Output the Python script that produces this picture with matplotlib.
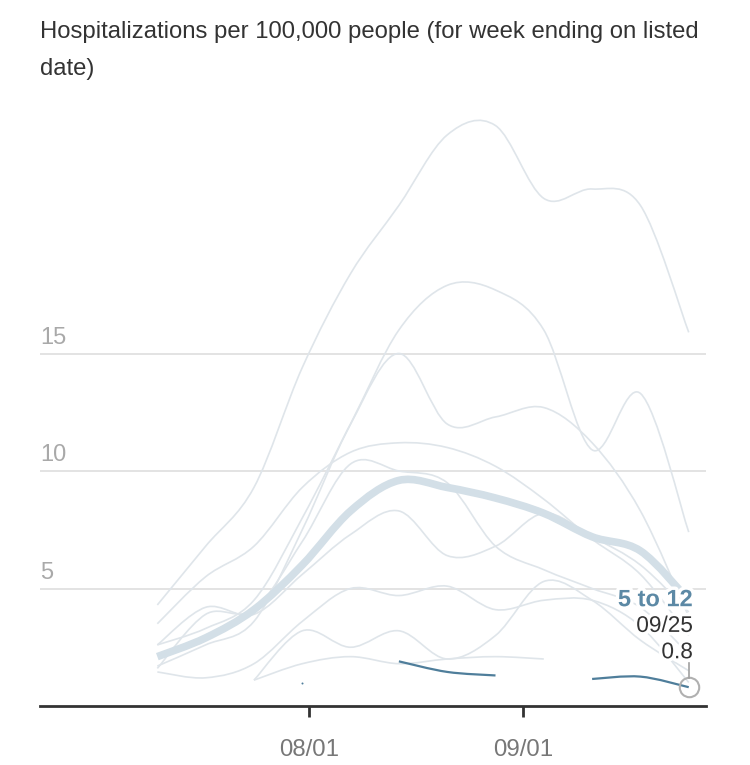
import numpy as np
import matplotlib
matplotlib.use("Agg")
import matplotlib.pyplot as plt
import matplotlib.dates as mdates
from matplotlib.path import Path
from matplotlib.patches import PathPatch
import matplotlib.patheffects as pe

plt.rcParams['font.family'] = ['Liberation Sans', 'DejaVu Sans']

nan = np.nan

# ---- data ----
week_ending = ["2021-07-10", "2021-07-17", "2021-07-24", "2021-07-31",
               "2021-08-07", "2021-08-14", "2021-08-21", "2021-08-28",
               "2021-09-04", "2021-09-11", "2021-09-18", "2021-09-25"]

group_a = [4.3, 6.8, 9.3, 14.4, 18.4, 21.3, 24.3, 24.7, 21.6, 22.0, 21.3, 15.9]
group_b = [2.6, 3.3, 4.5, 8.0, 12.0, 16.0, 17.9, 17.7, 16.0, 10.9, 13.3, 7.4]
group_c = [1.7, 2.6, 3.6, 7.5, 12.0, 15.0, 12.0, 12.3, 12.7, 11.2, 8.3, 3.8]
group_d = [3.5, 5.5, 6.8, 9.3, 10.8, 11.2, 11.0, 10.2, 8.8, 7.1, 5.6, 3.0]
group_e = [2.6, 4.2, 3.9, 5.6, 7.3, 8.3, 6.4, 6.8, 8.2, 7.2, 6.0, 4.0]
group_f = [1.6, 3.9, 4.1, 7.0, 10.3, 10.0, 9.5, 6.8, 5.8, 5.0, 4.2, 2.2]
group_g = [1.45, 1.2, 1.8, 3.6, 5.0, 4.7, 5.1, 4.1, 4.5, 4.5, 3.4, 1.0]
group_h = [nan, nan, 1.1, 3.2, 2.5, 3.2, 2.0, 3.0, 5.3, 4.5, 2.8, 1.5]
group_i = [nan, nan, 1.1, 1.8, 2.1, 1.8, 2.0, 2.1, 2.0, nan, nan, nan]
other_groups = [group_a, group_b, group_c, group_d, group_e,
                group_f, group_g, group_h, group_i]

all_ages = [2.1, 2.9, 4.1, 6.0, 8.3, 9.6, 9.3, 8.85, 8.2, 7.2, 6.6, 4.5]
age_5_to_12 = [nan, nan, nan, 1.0, nan, 1.9, 1.45, 1.3, nan, 1.15, 1.25, 0.8]

highlight_name = "5 to 12"
highlight_date = "09/25"
highlight_value = "0.8"

y_grid = [5, 10, 15]
x_tick_dates = ["2021-08-01", "2021-09-01"]
x_tick_labels = ["08/01", "09/01"]
title = "Hospitalizations per 100,000 people (for week ending on listed\ndate)"

# ---- helpers ----
def smooth_path(xs, ys):
    pts = np.column_stack([xs, ys])
    n = len(pts)
    verts = [pts[0]]
    codes = [Path.MOVETO]
    for i in range(n - 1):
        p0 = pts[i - 1] if i > 0 else pts[i]
        p1 = pts[i]
        p2 = pts[i + 1]
        p3 = pts[i + 2] if i + 2 < n else pts[i + 1]
        c1 = p1 + (p2 - p0) / 6.0
        c2 = p2 - (p3 - p1) / 6.0
        verts += [c1, c2, p2]
        codes += [Path.CURVE4] * 3
    return Path(np.array(verts), codes)


def draw_series(ax, xs, ys, color, lw, z):
    ys = np.asarray(ys, float)
    valid = ~np.isnan(ys)
    i = 0
    n = len(ys)
    while i < n:
        if not valid[i]:
            i += 1
            continue
        j = i
        while j < n and valid[j]:
            j += 1
        sx, sy = xs[i:j], ys[i:j]
        if len(sx) == 1:
            ax.plot(sx, sy, 'o', ms=lw * 0.9, color=color, mew=0, zorder=z)
        else:
            ax.add_patch(PathPatch(smooth_path(sx, sy), fill=False,
                                   edgecolor=color, lw=lw, zorder=z,
                                   capstyle='butt', joinstyle='round'))
        i = j


# ---- figure ----
fig = plt.figure(figsize=(7.5, 7.65), dpi=100)
W, H = 750, 765
ax_left, ax_right = 40, 706
ax_bottom_px, ax_top_px = 706, 95
ax = fig.add_axes([ax_left / W, 1 - ax_bottom_px / H,
                   (ax_right - ax_left) / W, (ax_bottom_px - ax_top_px) / H])

x = mdates.datestr2num(week_ending)
x0 = mdates.datestr2num("2021-06-23")
ax.set_xlim(x0, x0 + 96.5)
ax.set_ylim(0, (ax_bottom_px - ax_top_px) / 23.5)

for g in y_grid:
    ax.axhline(g, color='#e1e1e1', lw=1.3, zorder=1)
    ax.annotate(str(g), xy=(0, g), xycoords=('axes fraction', 'data'),
                xytext=(0, 3.5), textcoords='offset points',
                ha='left', va='bottom', fontsize=17, color='#a9a9a9')

for s in other_groups:
    draw_series(ax, x, s, '#dfe5ea', 1.2, 2)

draw_series(ax, x, all_ages, '#d3dfe7', 5.5, 3)
draw_series(ax, x, age_5_to_12, '#4f7e9b', 1.6, 4)

# end marker and labels
ax.plot([x[-1]], [age_5_to_12[-1]], 'o', ms=14, mfc='none', mec='#b0b0b0',
        mew=1.5, zorder=6, clip_on=False)
ax.plot([x[-1], x[-1]], [age_5_to_12[-1] + 9.5 / 23.5, age_5_to_12[-1] + 24 / 23.5],
        color='#a0a0a0', lw=1.2, zorder=6, clip_on=False)

halo = [pe.withStroke(linewidth=5, foreground='white')]
ax.annotate(highlight_value, xy=(x[-1], age_5_to_12[-1]), xytext=(3, 25.5),
            textcoords='offset points', ha='right', va='center',
            fontsize=16.3, color='#333333', zorder=7, path_effects=halo)
ax.annotate(highlight_date, xy=(x[-1], age_5_to_12[-1]), xytext=(3, 44.5),
            textcoords='offset points', ha='right', va='center',
            fontsize=16.3, color='#333333', zorder=7, path_effects=halo)
ax.annotate(highlight_name, xy=(x[-1], age_5_to_12[-1]), xytext=(3, 63),
            textcoords='offset points', ha='right', va='center',
            fontsize=17, fontweight='bold', color='#5c89a5', zorder=7,
            path_effects=halo)

# axes styling
for sp in ['left', 'right', 'top']:
    ax.spines[sp].set_visible(False)
ax.spines['bottom'].set_color('#333333')
ax.spines['bottom'].set_linewidth(2)
ax.set_yticks([])
ax.set_xticks(mdates.datestr2num(x_tick_dates))
ax.set_xticklabels(x_tick_labels)
ax.tick_params(axis='x', direction='out', length=8, width=2, color='#333333',
               labelcolor='#777777', labelsize=17.3, pad=16)
ax.set_facecolor('none')

fig.text(40 / W, 1 - 21 / H, title, ha='left', va='top', fontsize=17.2,
         color='#333333', linespacing=1.9)

fig.savefig("out.png", dpi=100, facecolor='white')
